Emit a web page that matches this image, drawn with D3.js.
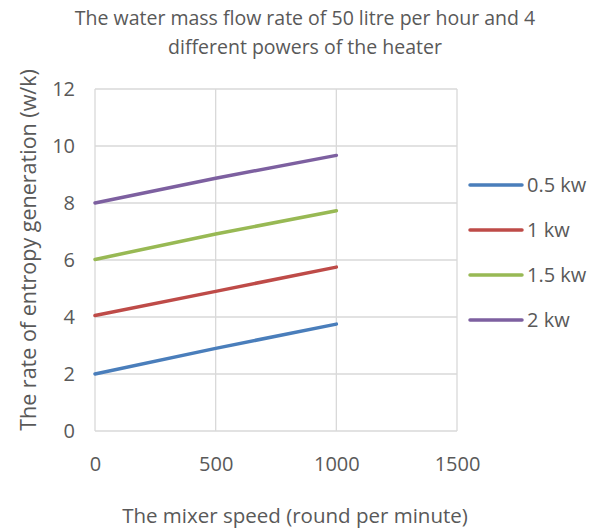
<!DOCTYPE html>
<html>
<head>
<meta charset="utf-8">
<script src="https://cdn.jsdelivr.net/npm/d3@7"></script>
<style>
  body { margin: 0; background: #fff; }
  text { font-family: "Open Sans", "Noto Sans", sans-serif; fill: #595959; }
</style>
</head>
<body>
<svg id="chart"></svg>
<script>
const speeds = [0, 500, 1000];
const seriesNames = ["0.5 kw", "1 kw", "1.5 kw", "2 kw"];
const kw05 = [2.0, 2.9, 3.75];
const kw1 = [4.05, 4.9, 5.75];
const kw15 = [6.02, 6.91, 7.73];
const kw2 = [8.0, 8.87, 9.67];
const xTicks = [0, 500, 1000, 1500];
const yTicks = [0, 2, 4, 6, 8, 10, 12];
const colors = ["#4a7ebb", "#be4b48", "#98b954", "#7d60a0"];

const W = 608, H = 530;
const margin = { top: 89, right: 151, bottom: 99, left: 95 };
const svg = d3.select("#chart").attr("width", W).attr("height", H);
const width = W - margin.left - margin.right, height = H - margin.top - margin.bottom;
const g = svg.append("g").attr("transform", `translate(${margin.left},${margin.top})`);

const x = d3.scaleLinear().domain([0, 1500]).range([0, width]);
const y = d3.scaleLinear().domain([0, 12]).range([height, 0]);

// gridlines
g.append("g").selectAll("line").data(xTicks).enter().append("line")
  .attr("x1", d => x(d)).attr("x2", d => x(d)).attr("y1", 0).attr("y2", height)
  .attr("stroke", "#d9d9d9").attr("stroke-width", 1.3);
g.append("g").selectAll("line").data(yTicks).enter().append("line")
  .attr("x1", 0).attr("x2", width).attr("y1", d => y(d)).attr("y2", d => y(d))
  .attr("stroke", "#d9d9d9").attr("stroke-width", 1.3);

// axes labels (no domain/ticks lines)
const xAxis = g.append("g").attr("transform", `translate(0,${height})`)
  .call(d3.axisBottom(x).tickValues(xTicks).tickFormat(d3.format("d")).tickSize(0).tickPadding(26));
xAxis.select(".domain").remove();
xAxis.selectAll("text").style("font-size", "20px").attr("fill", "#595959");

const yAxis = g.append("g")
  .call(d3.axisLeft(y).tickValues(yTicks).tickSize(0).tickPadding(20));
yAxis.select(".domain").remove();
yAxis.selectAll("text").style("font-size", "20px").attr("fill", "#595959");

// lines
const data = [kw05, kw1, kw15, kw2];
const line = d3.line().x((d, i) => x(speeds[i])).y(d => y(d));
data.forEach((vals, idx) => {
  g.append("path").datum(vals).attr("d", line)
    .attr("fill", "none").attr("stroke", colors[idx]).attr("stroke-width", 3.5)
    .attr("stroke-linecap", "round");
});

// legend
const legend = svg.append("g").attr("transform", "translate(470,185)");
seriesNames.forEach((name, i) => {
  const row = legend.append("g").attr("transform", `translate(0,${i * 45})`);
  row.append("line").attr("x1", 0).attr("x2", 52).attr("y1", 0).attr("y2", 0)
    .attr("stroke", colors[i]).attr("stroke-width", 3.5).attr("stroke-linecap", "round");
  row.append("text").attr("x", 57).attr("y", 0).attr("dy", "0.35em")
    .style("font-size", "20px").text(name);
});

// title
const title = svg.append("text").attr("text-anchor", "middle").style("font-size", "19.5px");
title.append("tspan").attr("x", 305).attr("y", 25).text("The water mass flow rate of 50 litre per hour and 4");
title.append("tspan").attr("x", 305).attr("y", 54).text("different powers of the heater");

// axis titles
svg.append("text").attr("x", 295).attr("y", 523).attr("text-anchor", "middle")
  .style("font-size", "20.5px").text("The mixer speed (round per minute)");
svg.append("text").attr("transform", "translate(36,250) rotate(-90)").attr("text-anchor", "middle")
  .style("font-size", "21.5px").text("The rate of entropy generation (w/k)");
</script>
</body>
</html>
